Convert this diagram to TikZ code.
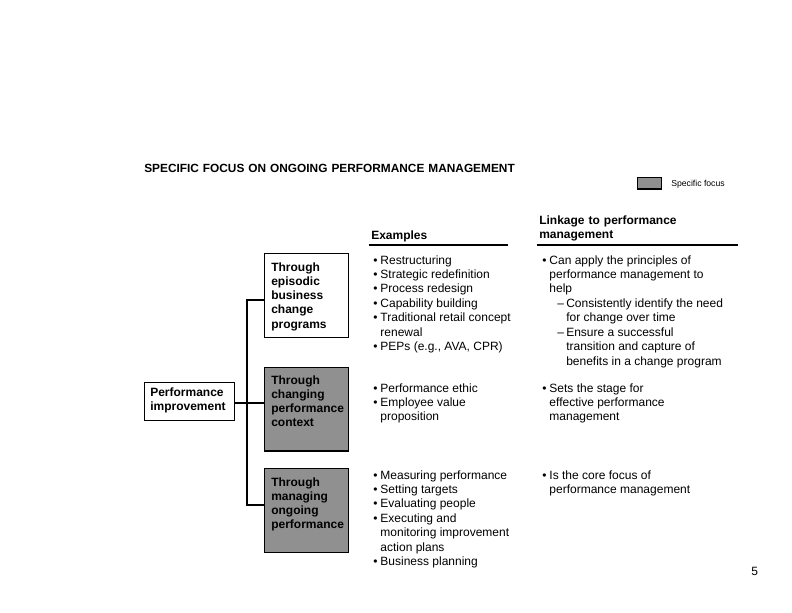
\documentclass[tikz,border=0pt]{standalone}
\usepackage{fontspec}
\setmainfont{Liberation Sans}
\definecolor{focusgrey}{RGB}{144,144,144}
\newcommand\bitem{\par\hangindent=5.4pt\hangafter=1\noindent\makebox[5.4pt][l]{\textbullet}}
\newcommand\ditem{\par\hangindent=18pt\hangafter=1\noindent\hspace*{11.25pt}\makebox[6.75pt][l]{--}}
\newcommand\colbox[2]{\parbox[t]{#1}{\raggedright\parindent=0pt\parskip=0pt #2}}
\tikzset{
  x=0.75pt, y=-0.75pt,
  txt/.style={inner sep=0pt, anchor=base west,
    font=\fontsize{9}{10.85}\selectfont},
  boldtxt/.style={inner sep=0pt, anchor=base west, align=left, text width=#1,
    font=\fontsize{9}{10.7}\selectfont\bfseries},
  boldtxt/.default=150pt,
  focusbox/.style={draw, line width=1.1pt, inner sep=0pt, anchor=north west},
  link/.style={line width=2.2pt},
  rule/.style={line width=1.5pt},
}
\begin{document}
\begin{tikzpicture}
\useasboundingbox (0,0) rectangle (792,612);
% title
\node[boldtxt=400pt, font=\fontsize{8.9}{10.7}\selectfont\bfseries] (title) at (144,172) {SPECIFIC FOCUS ON ONGOING PERFORMANCE MANAGEMENT};
% legend
\node[focusbox, fill=focusgrey, minimum width=18pt, minimum height=8.5pt] (legbox) at (637,177) {};
\node[inner sep=0pt, anchor=base west, font=\fontsize{6.5}{7}\selectfont] (legtxt) at (671,186) {Specific focus};
% left box
\node[focusbox, fill=white, minimum width=67.5pt, minimum height=28.5pt] (perf) at (144,382) {};
\node[boldtxt=70pt] (perft) at (150,396) {Performance\\improvement};
% three boxes
\node[focusbox, fill=white, minimum width=63pt, minimum height=63pt] (b1) at (264,253) {};
\node[boldtxt=60pt] (b1t) at (271,271) {Through\\episodic\\business\\change\\programs};
\node[focusbox, fill=focusgrey, minimum width=63pt, minimum height=62.5pt] (b2) at (264,367) {};
\node[boldtxt=60pt] (b2t) at (271,384) {Through\\changing\\performance\\context};
\node[focusbox, fill=focusgrey, minimum width=63pt, minimum height=63pt] (b3) at (264,468) {};
\node[boldtxt=60pt] (b3t) at (271,486) {Through\\managing\\ongoing\\performance};
% connectors
\coordinate (jtop) at (247,300);
\coordinate (jmid) at (247,403);
\coordinate (jbot) at (247,505);
\draw[link] (perf.east |- jmid) -- (b2.west |- jmid);
\draw[link, line join=miter] (b1.west |- jtop) -- (jtop) -- (jbot) -- (b3.west |- jbot);
% headers
\node[boldtxt=150pt] (hex) at (371,239) {Examples};
\node[boldtxt=200pt] (hlink) at (539,224) {Linkage to performance\\management};
\coordinate (exl) at (369,245); \coordinate (exr) at (508,245);
\coordinate (lkl) at (537,245); \coordinate (lkr) at (738,245);
\draw[rule] (exl) -- (exr);
\draw[rule] (lkl) -- (lkr);
% examples column
\node[txt] (ex1) at (373,264) {\colbox{120pt}{%
\bitem Restructuring
\bitem Strategic redefinition
\bitem Process redesign
\bitem Capability building
\bitem Traditional retail concept\newline renewal
\bitem PEPs (e.g., AVA, CPR)}};
\node[txt] (ex2) at (373,392) {\colbox{120pt}{%
\bitem Performance ethic
\bitem Employee value\newline proposition}};
\node[txt] (ex3) at (373,479) {\colbox{120pt}{%
\bitem Measuring performance
\bitem Setting targets
\bitem Evaluating people
\bitem Executing and\newline monitoring improvement\newline action plans
\bitem Business planning}};
% linkage column
\node[txt] (lk1) at (542,264) {\colbox{150pt}{%
\bitem Can apply the principles of\newline performance management to\newline help
\ditem Consistently identify the need\newline for change over time
\ditem Ensure a successful\newline transition and capture of\newline benefits in a change program}};
\node[txt] (lk2) at (542,392) {\colbox{150pt}{%
\bitem Sets the stage for\newline effective performance\newline management}};
\node[txt] (lk3) at (542,479) {\colbox{150pt}{%
\bitem Is the core focus of\newline performance management}};
% page number
\node[inner sep=0pt, anchor=base west, font=\fontsize{9}{10}\selectfont] (pnum) at (751,575) {5};
\end{tikzpicture}
\end{document}
